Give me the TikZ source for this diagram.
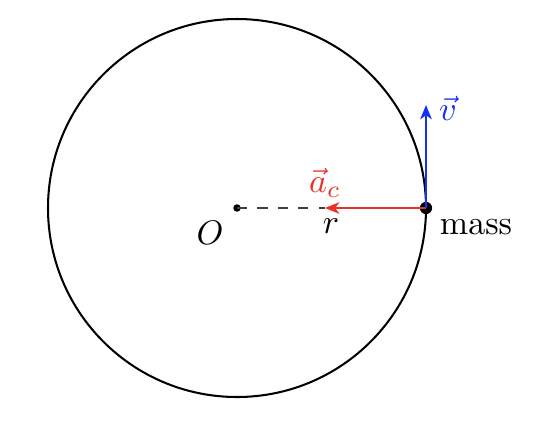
\documentclass[tikz,border=0pt]{standalone}
\usetikzlibrary{arrows.meta}
\definecolor{accred}{RGB}{232,50,40}
\definecolor{velblue}{RGB}{20,50,240}
\begin{document}
\begin{tikzpicture}[x=0.2941pt,y=-0.2941pt,
  vec/.style={semithick,-{Stealth[length=4.2pt,width=3.4pt,inset=1.2pt]}},
  lbl/.style={inner sep=0pt}]
\useasboundingbox (0,0) rectangle (544,426);
\coordinate (O) at (237,208);
\draw[semithick] (O) circle[radius=189];
\fill (O) circle[radius=1.1pt];
\node[circle,fill,inner sep=0pt,minimum size=3.6pt] (m) at (426,208) {};
\coordinate (ac) at (325,208);
\coordinate (vt) at (426,105);
\draw[dashed,black!75] (O) -- (ac);
\draw[vec,accred] (m.center) -- (ac);
\draw[vec,velblue] (m.center) -- (vt);
\node[lbl] (Olab) at (210,233) {$O$};
\node[lbl] (rlab) at (331,226) {$r$};
\node[lbl,text=accred] (aclab) at (325,183) {$\vec a_c$};
\node[lbl,text=velblue] (vlab) at (448,108) {$\vec v$};
\node[lbl] (mlab) at (476,227) {mass};
\end{tikzpicture}
\end{document}
